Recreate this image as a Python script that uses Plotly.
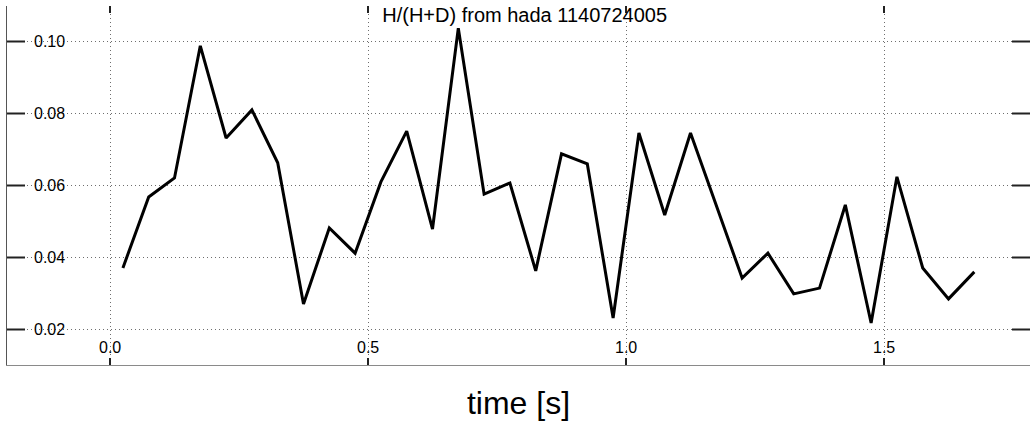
import plotly.graph_objects as go

# H/(H+D) ratio sampled every 50 ms
time_s = [0.025, 0.075, 0.125, 0.175, 0.225, 0.275, 0.325, 0.375, 0.425, 0.475,
          0.525, 0.575, 0.625, 0.675, 0.725, 0.775, 0.825, 0.875, 0.925, 0.975,
          1.025, 1.075, 1.125, 1.175, 1.225, 1.275, 1.325, 1.375, 1.425, 1.475,
          1.525, 1.575, 1.625, 1.675]
ratio = [0.0371, 0.0568, 0.0621, 0.0988, 0.0732, 0.0810, 0.0663, 0.0271, 0.0482, 0.0412,
         0.0610, 0.0751, 0.0479, 0.1037, 0.0576, 0.0607, 0.0363, 0.0688, 0.0660, 0.0232,
         0.0746, 0.0518, 0.0746, 0.0545, 0.0343, 0.0412, 0.0299, 0.0315, 0.0546, 0.0218,
         0.0624, 0.0371, 0.0285, 0.0360]

x_ticks = [0.0, 0.5, 1.0, 1.5]
y_ticks = [0.02, 0.04, 0.06, 0.08, 0.10]

X_RANGE = [-0.1996, 1.7829]
Y_RANGE = [0.01014, 0.10986]

FONT = "Liberation Sans, Arial, Helvetica, sans-serif"
GRID = "#6e6e6e"
TICK = "#222"

PLOT_W = 1023   # plot-area size in px
PLOT_H = 359
Y_TICK_LEN = 18 / PLOT_W
X_TICK_LEN = 7 / PLOT_H

fig = go.Figure()
fig.add_trace(go.Scatter(x=time_s, y=ratio, mode="lines",
                         line=dict(color="black", width=3),
                         showlegend=False, hoverinfo="skip"))

# inward tick marks on all four edges, one per tick value
tick_shapes = []
for v in y_ticks:
    for a, b in ((0, Y_TICK_LEN), (1 - Y_TICK_LEN, 1)):
        tick_shapes.append(dict(type="line", xref="x domain", yref="y",
                                x0=a, x1=b, y0=v, y1=v,
                                line=dict(color=TICK, width=2), layer="above"))
for v in x_ticks:
    for a, b in ((0, X_TICK_LEN), (1 - X_TICK_LEN, 1)):
        tick_shapes.append(dict(type="line", xref="x", yref="y domain",
                                x0=v, x1=v, y0=a, y1=b,
                                line=dict(color=TICK, width=2), layer="above"))

# tick labels sit inside the plot area
tick_labels = []
for v in y_ticks:
    tick_labels.append(dict(text=f"{v:.2f}", xref="x domain", yref="y",
                            x=25 / PLOT_W, y=v, xanchor="left", yanchor="middle",
                            showarrow=False, font=dict(size=16, color="black")))
for v in x_ticks:
    tick_labels.append(dict(text=f"{v:.1f}", xref="x", yref="y domain",
                            x=v, y=18 / PLOT_H, xanchor="center", yanchor="middle",
                            showarrow=False, font=dict(size=16, color="black")))

fig.update_layout(
    template="none",
    width=1030, height=421,
    margin=dict(l=7, r=0, t=6, b=56),
    paper_bgcolor="white", plot_bgcolor="white",
    font=dict(family=FONT, color="black"),
    showlegend=False,
    title=dict(text="H/(H+D) from hada 1140724005",
               x=0.506, xanchor="center", xref="paper",
               y=1 - 15 / 421, yanchor="middle",
               font=dict(size=20, family=FONT, color="black")),
    xaxis=dict(range=X_RANGE, tickvals=x_ticks, showticklabels=False,
               showgrid=True, gridcolor=GRID, griddash="1px,3px", gridwidth=1.2,
               zeroline=False, showline=True, linecolor="#8a8a8a", linewidth=1,
               ticks="",
               title=dict(text="time [s]", font=dict(size=32), standoff=33),
               fixedrange=True),
    yaxis=dict(range=Y_RANGE, tickvals=y_ticks, showticklabels=False,
               showgrid=True, gridcolor=GRID, griddash="1px,3px", gridwidth=1.2,
               zeroline=False, showline=True, linecolor="#555", linewidth=1,
               ticks="", fixedrange=True),
    shapes=tick_shapes,
    annotations=tick_labels,
)

fig.write_html("out.html")
